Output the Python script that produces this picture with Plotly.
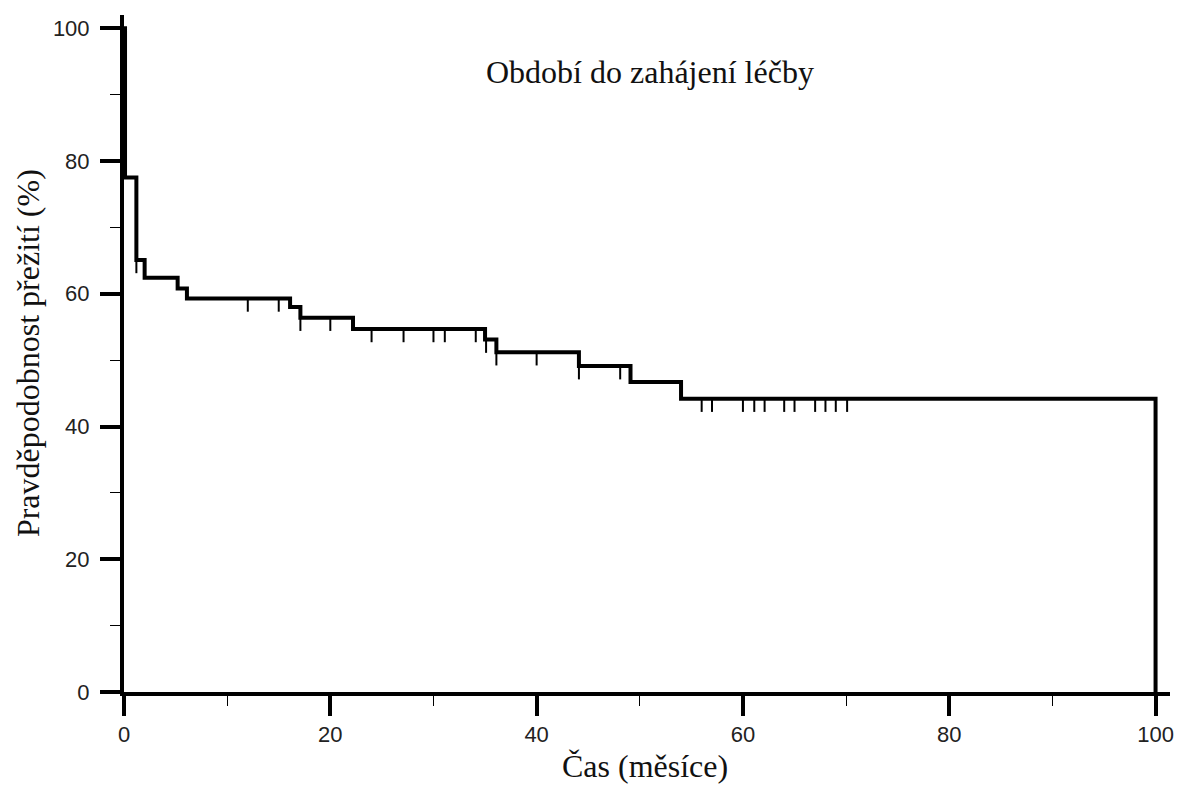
import plotly.graph_objects as go

# Kaplan-Meier step data (months, survival %)
event_times = [0, 0.1, 1.2, 2.0, 5.2, 6.1, 16.1, 17.1, 22.2, 35.0, 36.1, 44.1, 49.1, 54.0, 100]
survival = [100, 77.5, 65.1, 62.4, 60.8, 59.3, 58.0, 56.4, 54.7, 53.1, 51.2, 49.1, 46.7, 44.2, 0]

# censoring marks (months)
censor_times = [1.2, 12.0, 15.0, 17.1, 20.0, 24.0, 27.1, 30.0, 31.1, 34.1, 35.1, 36.1, 40.0,
                44.1, 48.1, 56.0, 57.0, 60.0, 61.1, 62.1, 64.0, 65.0, 67.0, 68.0, 69.0, 70.1]

x_ticks = [0, 20, 40, 60, 80, 100]
y_ticks = [0, 20, 40, 60, 80, 100]

title_text = "Období do zahájení léčby"
x_label = "Čas (měsíce)"
y_label = "Pravděpodobnost přežití (%)"


def level_at(t):
    v = survival[0]
    for et, s in zip(event_times[:-1], survival[:-1]):
        if et <= t:
            v = s
    return v


mark_len = 2.0
cx, cy = [], []
for t in censor_times:
    v = level_at(t)
    cx += [t, t, None]
    cy += [v, v - mark_len, None]

fig = go.Figure()
fig.add_trace(go.Scatter(x=event_times, y=survival, mode="lines",
                         line=dict(shape="hv", color="black", width=4),
                         hoverinfo="skip", showlegend=False))
fig.add_trace(go.Scatter(x=cx, y=cy, mode="lines",
                         line=dict(color="black", width=2),
                         hoverinfo="skip", showlegend=False))

tickfont = dict(family="Liberation Sans, Arial, sans-serif", size=22, color="#222")
serif = dict(family="Liberation Serif, Times New Roman, serif", size=32, color="#111")

axis_common = dict(showline=True, linewidth=4, linecolor="black", showgrid=False,
                   zeroline=False, ticks="outside", ticklen=20, tickwidth=4,
                   tickcolor="black", tickfont=tickfont, automargin=False,
                   minor=dict(ticks="outside", ticklen=10, tickwidth=1,
                              tickcolor="black", dtick=10, tick0=0, showgrid=False))

fig.update_xaxes(range=[0, 101.4], tickvals=x_ticks, ticktext=[str(v) for v in x_ticks],
                 ticklabelstandoff=0, **axis_common)
fig.update_yaxes(range=[0, 102], tickvals=y_ticks, ticktext=[str(v) for v in y_ticks],
                 ticklabelstandoff=6, **axis_common)

fig.add_annotation(x=51, y=93.4, xref="x", yref="y", text=title_text, showarrow=False,
                   font=serif, xanchor="center", yanchor="middle")
fig.add_annotation(x=0.498, y=-0.11, xref="paper", yref="paper", text=x_label,
                   showarrow=False, font=serif, xanchor="center", yanchor="middle")
fig.add_annotation(x=-0.0915, y=0.501, xref="paper", yref="paper", text=y_label,
                   showarrow=False, font=serif, textangle=-90,
                   xanchor="center", yanchor="middle")

fig.update_layout(width=1179, height=791, plot_bgcolor="white", paper_bgcolor="white",
                  margin=dict(l=124, r=9, t=15, b=99), showlegend=False)

fig.write_html("out.html", config={"displayModeBar": False},
               post_script="document.body.style.margin='0';document.body.style.overflow='hidden';")
